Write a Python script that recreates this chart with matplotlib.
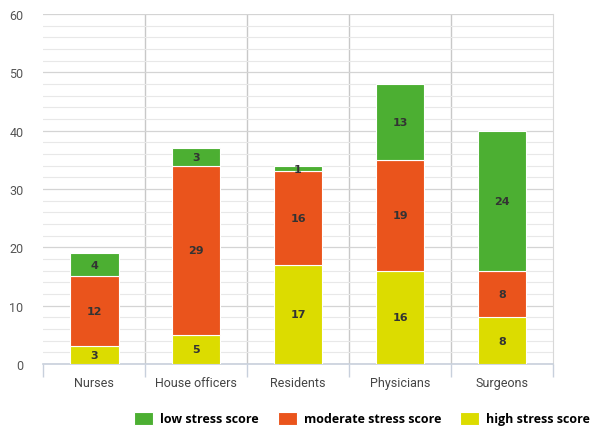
import numpy as np
import matplotlib.pyplot as plt
from matplotlib.ticker import MultipleLocator, FixedLocator

# Dados do gráfico
categories = ['Nurses', 'House officers', 'Residents', 'Physicians', 'Surgeons']
high_stress = [3, 5, 17, 16, 8]
moderate_stress = [12, 29, 16, 19, 8]
low_stress = [4, 3, 1, 13, 24]

c_low = '#4caf32'
c_mod = '#ea541c'
c_high = '#dcdc00'

fig = plt.figure(figsize=(5.91, 4.27), dpi=100)
ax = fig.add_axes([0.0728, 0.1452, 0.8629, 0.8197])

x = np.arange(len(categories))
w = 0.48
high = np.array(high_stress)
mod = np.array(moderate_stress)
low = np.array(low_stress)

b1 = ax.bar(x, high, w, color=c_high, edgecolor='white', linewidth=0.8, label='high stress score', zorder=3)
b2 = ax.bar(x, mod, w, bottom=high, color=c_mod, edgecolor='white', linewidth=0.8, label='moderate stress score', zorder=3)
b3 = ax.bar(x, low, w, bottom=high + mod, color=c_low, edgecolor='white', linewidth=0.8, label='low stress score', zorder=3)

# Rótulos dentro das barras
for bars, vals, bottoms in [(b1, high, np.zeros(len(x))), (b2, mod, high), (b3, low, high + mod)]:
    for i, v in enumerate(vals):
        ax.text(x[i], bottoms[i] + v / 2, str(v), ha='center', va='center',
                fontsize=8, fontweight='bold', color='#333333', zorder=4)

ax.set_xlim(-0.5, 4.5)
ax.set_ylim(0, 60)
ax.yaxis.set_major_locator(MultipleLocator(10))
ax.yaxis.set_minor_locator(MultipleLocator(2))
ax.grid(which='major', axis='y', color='#d4d4d4', linewidth=0.9, zorder=0)
ax.grid(which='minor', axis='y', color='#e8e8e8', linewidth=0.8, zorder=0)

# Separadores verticais entre categorias
for b in np.arange(0.5, 4.5, 1):
    ax.axvline(b, color='#c8c8c8', linewidth=1.0, zorder=1)

ax.set_xticks(x)
ax.set_xticklabels(categories, fontsize=9, color='#444444', family='Roboto')
ax.xaxis.set_minor_locator(FixedLocator(np.arange(-0.5, 5, 1)))
ax.tick_params(axis='x', which='major', length=0, pad=9)
ax.tick_params(axis='x', which='minor', length=9, color='#c8d0dc', width=1)
ax.tick_params(axis='y', which='both', length=0, pad=14, labelsize=9, labelcolor='#555555')
for lab in ax.get_yticklabels():
    lab.set_family('Roboto')

for s in ['top', 'left']:
    ax.spines[s].set_visible(False)
ax.spines['right'].set_color('#d8d8d8')
ax.spines['bottom'].set_color('#c8d0dc')
ax.spines['bottom'].set_linewidth(1.2)

fig.legend([b3, b2, b1], ['low stress score', 'moderate stress score', 'high stress score'],
           loc='lower center', bbox_to_anchor=(0.613, -0.025), ncol=3, frameon=False,
           prop={'weight': 'bold', 'size': 9, 'family': 'Open Sans'},
           handlelength=1.5, handleheight=1.2, columnspacing=1.5, handletextpad=0.6)

fig.savefig('out.png', dpi=100)
